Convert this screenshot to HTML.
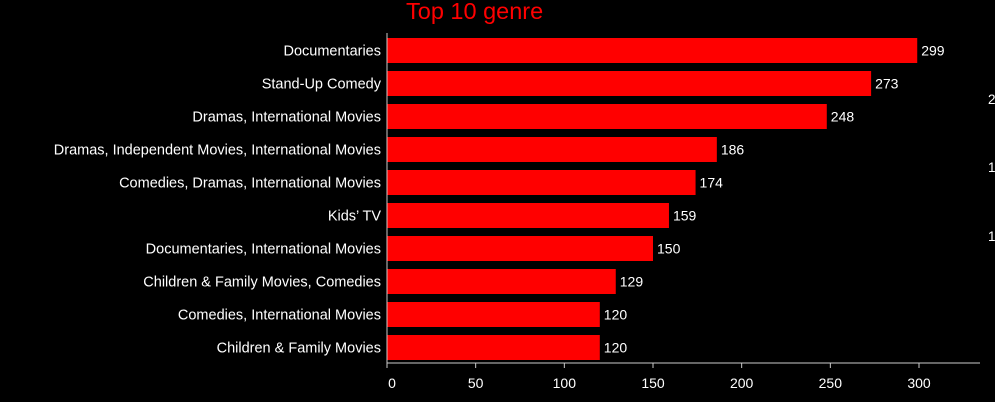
<!DOCTYPE html>
<html><head><meta charset="utf-8"><style>
html,body{margin:0;padding:0;background:#000;width:995px;height:402px;overflow:hidden}
svg{display:block}
text{font-family:"Liberation Sans",sans-serif}
</style></head><body>
<svg id="chart" width="995" height="402">
<text x="406" y="19" font-size="23.5" fill="#ff0000">Top 10 genre</text>
<text x="988" y="104" font-size="13.5" fill="#fff">2</text>
<text x="988" y="172" font-size="13.5" fill="#fff">1</text>
<text x="988" y="241" font-size="13.5" fill="#fff">1</text>
</svg>
<script>
const categories=["Documentaries","Stand-Up Comedy","Dramas, International Movies","Dramas, Independent Movies, International Movies","Comedies, Dramas, International Movies","Kids’ TV","Documentaries, International Movies","Children & Family Movies, Comedies","Comedies, International Movies","Children & Family Movies"];
const values=[299,273,248,186,174,159,150,129,120,120];
const ticks=[0,50,100,150,200,250,300];
const svg=document.getElementById('chart');
const NS='http://www.w3.org/2000/svg';
const x0=387, pxPer=532/300, top0=38, pitch=33, bh=25, axisY=363;
const xs=v=>x0+v*pxPer;
const ys=i=>top0+i*pitch;
function mk(t,a){const e=document.createElementNS(NS,t);for(const k in a)e.setAttribute(k,a[k]);svg.appendChild(e);return e;}
categories.forEach((c,i)=>{
 const r=mk('rect',{x:x0,y:ys(i),width:xs(values[i])-x0,height:bh,fill:'#ff0000'});
 
 
 const l=mk('text',{x:381,y:ys(i)+bh/2+5,'font-size':14.5,fill:'#fff','text-anchor':'end'});
 l.textContent=c;
 
 
 const v=mk('text',{x:xs(values[i])+4,y:ys(i)+bh/2+5,'font-size':14,fill:'#fff'});
 v.textContent=values[i];
 
 
});
const ya=mk('line',{x1:x0,x2:x0,y1:33,y2:axisY,stroke:'#ccc','stroke-width':1});


const xa=mk('line',{x1:x0,x2:980,y1:axisY,y2:axisY,stroke:'#ccc','stroke-width':1});


ticks.forEach(t=>{
 const tk=mk('line',{x1:xs(t),x2:xs(t),y1:axisY,y2:axisY+5,stroke:'#ccc','stroke-width':1});
 
 
 const tl=mk('text',{x:xs(t)+(t===0?5:0),y:388,'font-size':14,fill:'#fff','text-anchor':'middle'});
 tl.textContent=t;
 
 
});
</script>
</body></html>
